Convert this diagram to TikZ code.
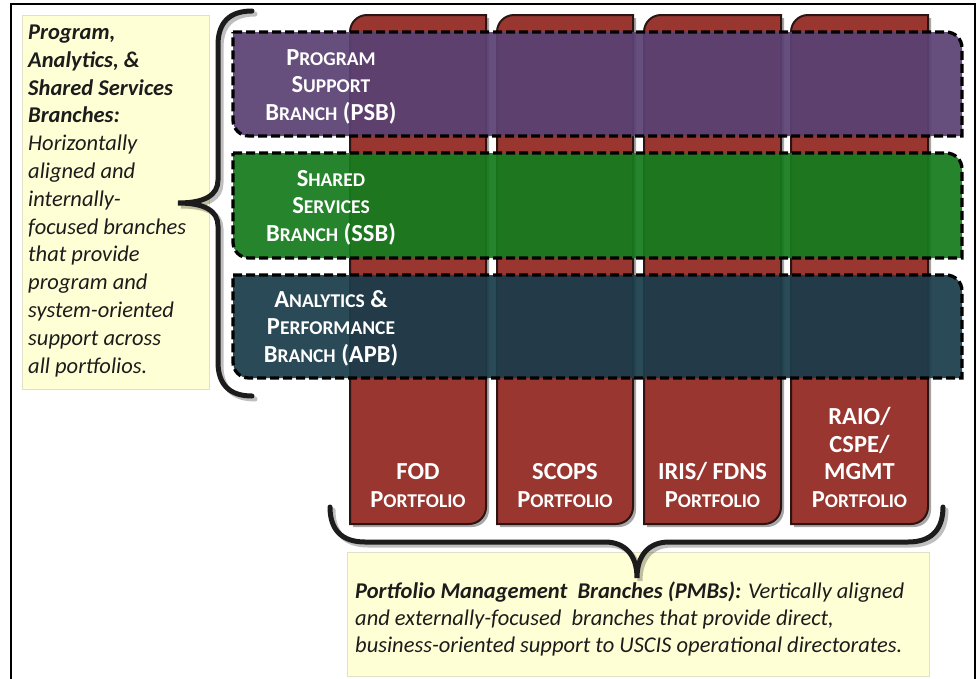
\documentclass[tikz,border=0pt]{standalone}
\usepackage{fontspec}
\setmainfont{Carlito}
\newcommand\smc[1]{{\fontsize{19.5}{27.5}\selectfont #1}}

\definecolor{pillar}{RGB}{152,54,47}
\definecolor{pillaredge}{RGB}{45,20,18}
\definecolor{psbfill}{RGB}{90,65,115}
\definecolor{ssbfill}{RGB}{21,123,29}
\definecolor{apbfill}{RGB}{27,60,74}
\definecolor{notebg}{RGB}{255,255,214}
\definecolor{noteedge}{RGB}{225,225,200}
\definecolor{ink}{RGB}{28,28,28}

\tikzset{
  notebox/.style={fill=notebg, draw=noteedge, line width=0.8, inner sep=0, anchor=north west},
  bracket/.style={line width=5, ink, line cap=round},
  bracketshadow/.style={line width=5, black, opacity=0.25, line cap=round},
  pillarbody/.style={fill=pillar, draw=pillaredge, line width=2},
  pillarshadow/.style={fill=black, opacity=0.35},
  band/.style={draw=black, line width=3.3, dash pattern=on 9pt off 4pt, fill opacity=0.93},
  bandtext/.style={text=white, font=\fontsize{24.5}{27.5}\selectfont\bfseries, align=center, inner sep=0, anchor=base},
  notetext/.style={text=ink, font=\fontsize{22.5}{27.8}\selectfont\itshape, align=left, inner sep=0, anchor=base west},
}

% pillar with rounded top-left and bottom-right corners
\newcommand\pillarpath[2]{%
  (#1,524) -- (#1,32) .. controls (#1,22.6) and (#1+7.6,15) .. (#1+17,15)
  -- (#2,15) -- (#2,507) .. controls (#2,516.4) and (#2-7.6,524) .. (#2-17,524) -- cycle}
% band with rounded top-right and bottom-left corners
\newcommand\bandpath[2]{%
  (233,#1) -- (946,#1) .. controls (955,#1) and (962,#1+7) .. (962,#1+16)
  -- (962,#2) -- (249,#2) .. controls (240,#2) and (233,#2-7) .. (233,#2-16) -- cycle}

\begin{document}
\begin{tikzpicture}[x=1pt,y=-1pt]
\useasboundingbox (0,0) rectangle (977,678);

% outer frame
\draw[line width=2.5, line cap=rect] (11,690) -- (11,4) -- (975,4) -- (975,690);

% note boxes
\node[notebox, minimum width=187, minimum height=374] (leftnote) at (22,15) {};
\node[notebox, minimum width=582, minimum height=124] (bottomnote) at (347,552) {};

% braces
\draw[bracketshadow, xshift=3, yshift=-3]
  (252,11) .. controls (230,11) and (218,22) .. (218,45) -- (218,180)
  .. controls (218,195) and (205,203) .. (178,203)
  .. controls (205,203) and (218,211) .. (218,226) -- (218,362)
  .. controls (218,385) and (230,396) .. (252,396);
\draw[bracket]
  (252,11) .. controls (230,11) and (218,22) .. (218,45) -- (218,180)
  .. controls (218,195) and (205,203) .. (178,203) coordinate (lefttip)
  .. controls (205,203) and (218,211) .. (218,226) -- (218,362)
  .. controls (218,385) and (230,396) .. (252,396);
\draw[bracketshadow, xshift=3, yshift=-3]
  (330,507) .. controls (330,530) and (342,542) .. (365,542) -- (605,542)
  .. controls (625,542) and (637,555) .. (637,578)
  .. controls (637,555) and (649,542) .. (669,542) -- (908,542)
  .. controls (931,542) and (943,530) .. (943,507);
\draw[bracket]
  (330,507) .. controls (330,530) and (342,542) .. (365,542) -- (605,542)
  .. controls (625,542) and (637,555) .. (637,578) coordinate (bottomtip)
  .. controls (637,555) and (649,542) .. (669,542) -- (908,542)
  .. controls (931,542) and (943,530) .. (943,507);

% portfolio pillars
\foreach \l/\r in {350/486, 497/633, 644/781, 791/928}{
  \fill[pillarshadow, xshift=3, yshift=-3] \pillarpath{\l}{\r};
  \draw[pillarbody] \pillarpath{\l}{\r};
}

% horizontal branches
\draw[band, fill=psbfill] \bandpath{32}{136};
\draw[band, fill=ssbfill] \bandpath{153}{258};
\draw[band, fill=apbfill] \bandpath{275}{378};

% branch labels (anchored at the baseline of the last line)
\node[bandtext] (psb) at (331,120) {P\smc{ROGRAM}\\S\smc{UPPORT}\\B\smc{RANCH} (PSB)};
\node[bandtext] (ssb) at (331,241) {S\smc{HARED}\\S\smc{ERVICES}\\B\smc{RANCH} (SSB)};
\node[bandtext] (apb) at (331,362) {A\smc{NALYTICS} \&\\P\smc{ERFORMANCE}\\B\smc{RANCH} (APB)};

% portfolio labels
\node[bandtext] (fod) at (418,507) {FOD\\P\smc{ORTFOLIO}};
\node[bandtext] (scops) at (565,507) {SCOPS\\P\smc{ORTFOLIO}};
\node[bandtext] (iris) at (712.5,507) {IRIS/ FDNS\\P\smc{ORTFOLIO}};
\node[bandtext] (raio) at (859.5,507) {RAIO/\\CSPE/\\MGMT\\P\smc{ORTFOLIO}};

% descriptions
\node[notetext] (lefttext) at (28,373) {\textbf{Program,}\\\textbf{Analytics, \&}\\\textbf{Shared Services}\\\textbf{Branches:}\\Horizontally\\aligned and\\internally-\\focused branches\\that provide\\program and\\system-oriented\\support across\\all portfolios.};
\node[notetext, font=\fontsize{22.5}{27}\selectfont\itshape] (bottomtext) at (355,652) {\textbf{Portfolio Management\ \ Branches (PMBs):} Vertically aligned\\and externally-focused\ \ branches that provide direct,\\business-oriented support to USCIS operational directorates.};
\end{tikzpicture}
\end{document}
